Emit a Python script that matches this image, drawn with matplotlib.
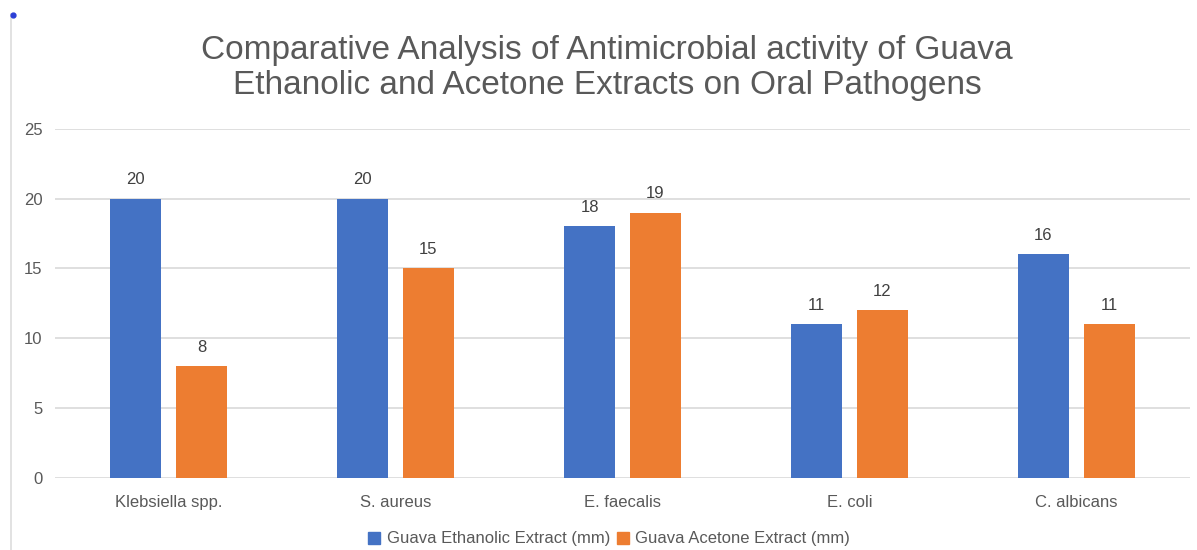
import numpy as np
import matplotlib.pyplot as plt
from matplotlib.lines import Line2D

plt.rcParams['font.family'] = ['Liberation Sans', 'DejaVu Sans']

pathogens = ['Klebsiella spp.', 'S. aureus', 'E. faecalis', 'E. coli', 'C. albicans']
ethanolic = [20, 20, 18, 11, 16]
acetone = [8, 15, 19, 12, 11]
series_names = ['Guava Ethanolic Extract (mm)', 'Guava Acetone Extract (mm)']
colors = ['#4472C4', '#ED7D31']
text_grey = '#595959'

fig = plt.figure(figsize=(11.97, 5.5), dpi=100)
ax = fig.add_axes([0.046, 0.131, 0.948, 0.635])

x = np.arange(len(pathogens))
width = 0.225
offset = 0.145

for vals, sign, color in zip([ethanolic, acetone], [-1, 1], colors):
    bars = ax.bar(x + sign * offset, vals, width, color=color, zorder=3)
    for b, v in zip(bars, vals):
        ax.text(b.get_x() + b.get_width() / 2, v + 0.8, str(v),
                ha='center', va='bottom', fontsize=12, color='#404040')

ax.set_xlim(-0.5, len(pathogens) - 0.5)
ax.set_ylim(0, 25)
ax.set_yticks(range(0, 26, 5))
ax.set_xticks(x)
ax.set_xticklabels(pathogens)
ax.tick_params(axis='both', length=0, labelsize=12, labelcolor=text_grey)
ax.tick_params(axis='x', pad=12)
ax.tick_params(axis='y', pad=9)
ax.yaxis.grid(True, color='#D9D9D9', linewidth=1.2, zorder=0)
for s in ax.spines.values():
    s.set_visible(False)

fig.text(0.507, 0.876, 'Comparative Analysis of Antimicrobial activity of Guava\n'
         'Ethanolic and Acetone Extracts on Oral Pathogens',
         ha='center', va='center', fontsize=24, color=text_grey, linespacing=1.17)

handles = [Line2D([], [], marker='s', linestyle='', markersize=8, color=c) for c in colors]
fig.legend(handles, series_names, loc='center', bbox_to_anchor=(0.509, 0.02),
           ncol=2, frameon=False, fontsize=12, handlelength=0.7, handletextpad=0.4,
           columnspacing=0.4, labelcolor=text_grey)

# thin border line and marker at the left edge
fig.add_artist(Line2D([0.0092, 0.0092], [0.0, 0.975], color='#DDDDDD', linewidth=1.2))
fig.add_artist(Line2D([0.0105], [0.973], marker='o', markersize=3.5, color='#2B3FD6'))

fig.savefig('out.png', dpi=100)
